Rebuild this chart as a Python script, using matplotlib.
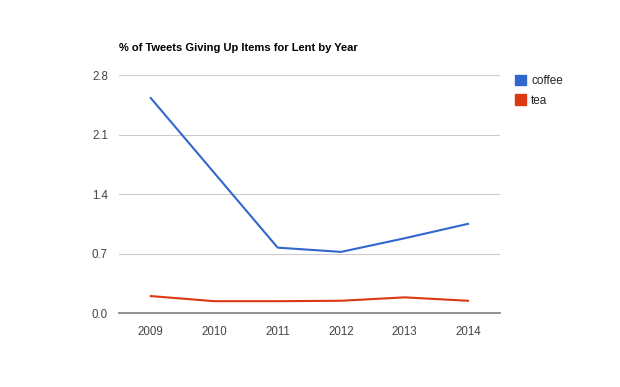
import matplotlib.pyplot as plt
import numpy as np
from matplotlib.patches import Patch

years = ['2009', '2010', '2011', '2012', '2013', '2014']
coffee = [2.53, 1.65, 0.77, 0.72, 0.88, 1.05]
tea = [0.20, 0.14, 0.14, 0.145, 0.185, 0.145]
y_ticks = [0.0, 0.7, 1.4, 2.1, 2.8]

plt.rcParams['font.family'] = ['Liberation Sans', 'DejaVu Sans']

fig = plt.figure(figsize=(6.2, 3.87), dpi=100)
ax = fig.add_axes([0.192, 0.191, 0.614, 0.615])

x = np.arange(len(years))
ax.plot(x, coffee, color='#3366cc', lw=1.5, label='coffee')
ax.plot(x, tea, color='#dc3912', lw=1.5, label='tea')

ax.set_xlim(-0.5, len(years) - 0.5)
ax.set_ylim(0, 2.8)
ax.set_yticks(y_ticks)
ax.set_yticklabels(['%.1f' % v for v in y_ticks])
ax.set_xticks(x)
ax.set_xticklabels(years)
ax.grid(axis='y', color='#cccccc', lw=0.8)
ax.set_axisbelow(True)
for s in ['top', 'right', 'left']:
    ax.spines[s].set_visible(False)
ax.spines['bottom'].set_color('#888888')
ax.spines['bottom'].set_linewidth(1.3)
ax.tick_params(length=0, labelsize=8.3, colors='#444444', pad=8)
ax.tick_params(axis='x', pad=9)

fig.text(0.192, 0.877, '% of Tweets Giving Up Items for Lent by Year',
         fontsize=8, fontweight='bold', color='#000000', ha='left', va='center')

handles = [Patch(color='#3366cc', label='coffee'), Patch(color='#dc3912', label='tea')]
fig.legend(handles=handles, loc='upper left', bbox_to_anchor=(0.813, 0.834),
           frameon=False, fontsize=8.5, handlelength=1.0, handleheight=1.0,
           handletextpad=0.4, labelspacing=0.6, labelcolor='#222222')

fig.savefig('out.png', dpi=100)
